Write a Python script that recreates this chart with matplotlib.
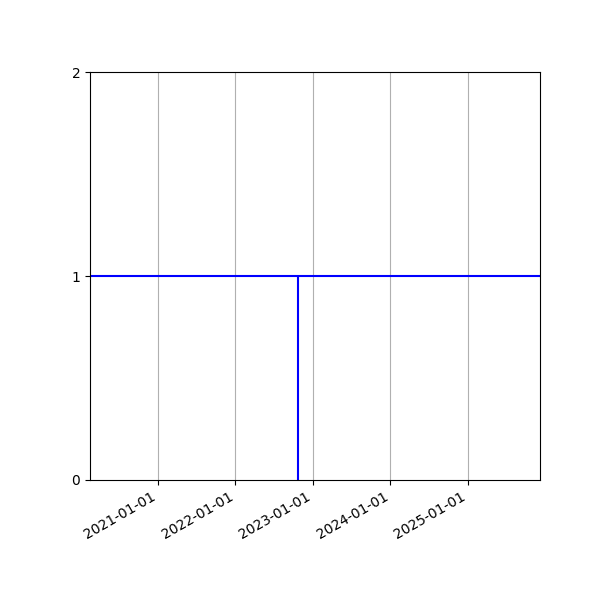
import matplotlib
matplotlib.use("Agg")
import matplotlib.pyplot as plt
import matplotlib.dates as mdates
import numpy as np

x_start = np.datetime64("2020-02-16")
x_end = np.datetime64("2025-12-06")
event_date = np.datetime64("2022-10-23")
level = 1
y_ticks = [0, 1, 2]
tick_dates = [np.datetime64(f"{y}-01-01") for y in range(2021, 2026)]

fig, ax = plt.subplots(figsize=(6, 6), dpi=100)
ax.axhline(level, color="blue", linewidth=1.5)
ax.vlines(event_date, 0, level, color="blue", linewidth=1.5)

ax.set_xlim(x_start, x_end)
ax.set_ylim(0, 2)
ax.set_yticks(y_ticks)
ax.set_xticks(tick_dates)
ax.xaxis.set_major_formatter(mdates.DateFormatter("%Y-%m-%d"))
ax.grid(axis="x")

fig.autofmt_xdate()
fig.subplots_adjust(left=0.15, right=0.9, top=0.88, bottom=0.2)
fig.savefig("out.png")
